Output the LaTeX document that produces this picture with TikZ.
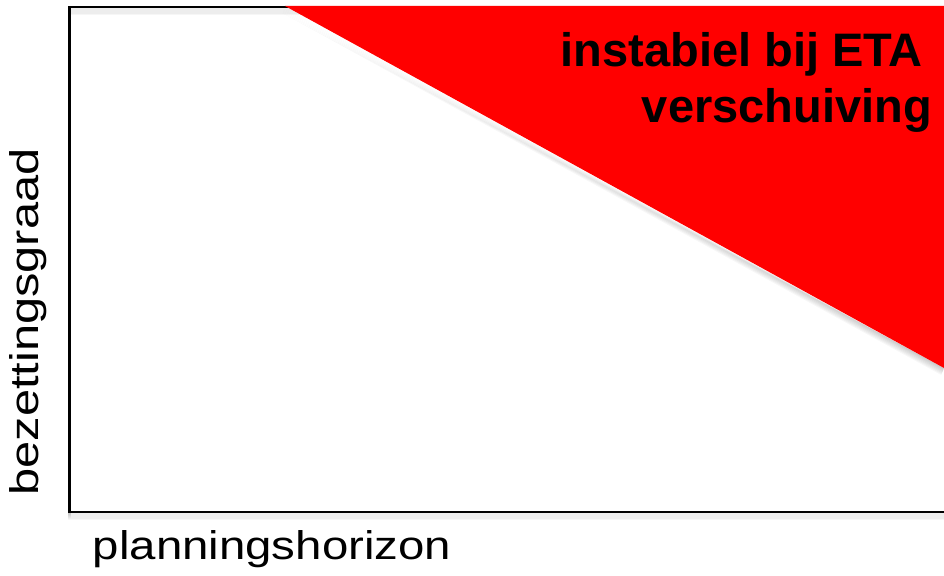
\documentclass[tikz,border=0pt]{standalone}
\usepackage{fontspec}
\usepackage{graphicx}
\setmainfont{Liberation Sans}
\begin{document}
\begin{tikzpicture}[x=1pt,y=-1pt,
  axisline/.style={line width=2.4pt,black,line cap=rect},
  axislabel/.style={font=\fontsize{40}{48}\selectfont,inner sep=0pt},
  zonelabel/.style={font=\fontsize{47}{55}\selectfont\bfseries,inner sep=0pt,anchor=base east}]
  \useasboundingbox (0,0) rectangle (944,575);

  \coordinate (tl) at (69.5,7);
  \coordinate (bl) at (69.5,512);
  \coordinate (br) at (944,512);
  \coordinate (tr) at (944,7);
  \coordinate (z1) at (285,6);
  \coordinate (z2) at (944,6);
  \coordinate (z3) at (944,368);

  % soft shadow under the frame lines and the red zone
  \foreach \d in {1,2,...,7}{
    \draw[line width=2.4pt,black,opacity=0.035]
      ([shift={(0,\d)}]tr) -- ([shift={(0,\d)}]tl) -- ([shift={(0,\d)}]bl) -- ([shift={(0,\d)}]br);
    \fill[black,opacity=0.03] ([shift={(-0.4*\d,\d)}]z1) -- ([shift={(-0.4*\d,\d)}]z3) -- (z3) -- cycle;
  }

  % frame
  \draw[axisline] (tr) -- (tl) -- (bl) -- (br);

  % unstable zone
  \fill[red] (z1) -- (z2) -- (z3) -- cycle;

  \node[zonelabel] (l1) at (923,67) {instabiel bij ETA};
  \node[zonelabel] (l2) at (932,122) {verschuiving};

  % axis labels
  \node[axislabel,anchor=base,rotate=90] (ylab) at (38,322) {\scalebox{1.22}[1]{bezettingsgraad}};
  \node[axislabel,anchor=base] (xlab) at (272,559) {\scalebox{1.185}[1]{planningshorizon}};
\end{tikzpicture}
\end{document}
